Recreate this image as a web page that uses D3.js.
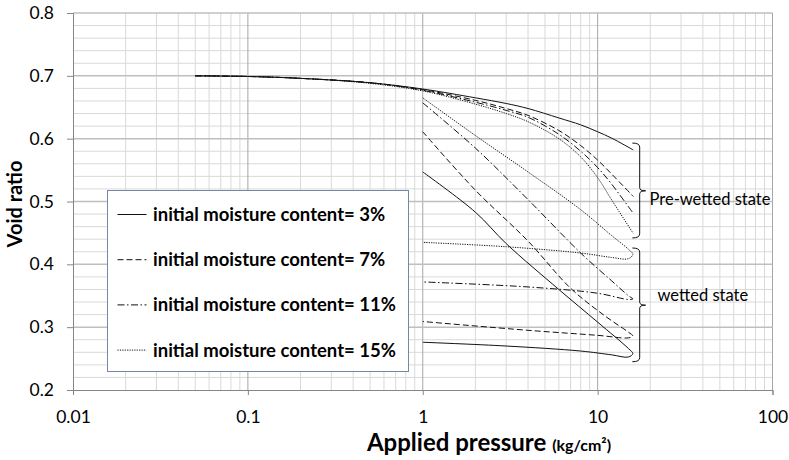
<!DOCTYPE html>
<html>
<head>
<meta charset="utf-8">
<script src="https://cdn.jsdelivr.net/npm/d3@7.9.0/dist/d3.min.js"></script>
<style>
  body { margin: 0; background: #fff; }
  svg text { font-family: Lato, "Open Sans", sans-serif; fill: #000; }
</style>
</head>
<body>
<svg id="chart" width="789" height="460"></svg>
<script>
// legend labels, one per initial moisture content
const seriesNames = [
  'initial moisture content= 3%',
  'initial moisture content= 7%',
  'initial moisture content= 11%',
  'initial moisture content= 15%'
];

// pre-wetted loading curves (pressure kg/cm2, void ratio)
const preP = [0.05, 0.1, 0.2, 0.5, 1, 2, 3, 4, 6, 8, 10, 12, 16];
const pre3 = [0.700, 0.699, 0.696, 0.689, 0.679, 0.665, 0.656, 0.648, 0.633, 0.622, 0.611, 0.601, 0.582];
const pre7 = [0.700, 0.699, 0.696, 0.689, 0.678, 0.661, 0.648, 0.637, 0.613, 0.589, 0.566, 0.544, 0.508];
const pre11 = [0.700, 0.699, 0.696, 0.689, 0.677, 0.658, 0.645, 0.634, 0.607, 0.580, 0.554, 0.528, 0.481];
const pre15 = [0.700, 0.699, 0.696, 0.688, 0.676, 0.655, 0.640, 0.627, 0.600, 0.571, 0.538, 0.503, 0.449];

// wetted state curves: down the diagonal, round the end, back along the bottom
const wetP3 = [1, 2, 3, 6, 10, 15, 15.9, 15, 12, 8, 3, 1];
const wet3 = [0.547, 0.483, 0.433, 0.360, 0.308, 0.266, 0.258, 0.2525, 0.256, 0.262, 0.270, 0.276];
const wetP7 = [1, 2, 4, 7, 11, 15, 15.9, 15, 10, 4, 1];
const wet7 = [0.611, 0.518, 0.437, 0.362, 0.318, 0.292, 0.286, 0.283, 0.287, 0.295, 0.309];
const wetP11 = [1, 2, 4, 8, 12, 15, 15.9, 15, 10, 4, 1];
const wet11 = [0.657, 0.585, 0.503, 0.418, 0.374, 0.350, 0.345, 0.344, 0.354, 0.364, 0.372];
const wetP15 = [1, 2, 4, 8, 12, 15, 15.9, 15, 12, 8, 3, 1];
const wet15 = [0.665, 0.605, 0.547, 0.487, 0.446, 0.424, 0.416, 0.409, 0.411, 0.418, 0.428, 0.435];

// brackets on the right
const bracketLabels = ['Pre-wetted state', 'wetted state'];
const bracketTop = [0.593, 0.426];
const bracketMid = [0.517, 0.335];
const bracketBottom = [0.442, 0.245];
const bracketTextY = [0.504, 0.351];

const xTicks = [0.01, 0.1, 1, 10, 100];
const yTicks = [0.2, 0.3, 0.4, 0.5, 0.6, 0.7, 0.8];

const dashes = ['none', '6,3', '7,2.5,1.5,2.5', '1.2,1.2'];

const svg = d3.select('#chart');
const plotL = 73, plotR = 772.5, plotT = 13, plotB = 390;

const x = d3.scaleLog().domain([0.01, 100]).range([plotL, plotR]);
const y = d3.scaleLinear().domain([0.2, 0.8]).range([plotB, plotT]);

// grid
const minorX = [];
for (let d = 0.01; d < 99; d *= 10) {
  for (let k = 2; k <= 9; k++) minorX.push(d * k);
}
const minorY = d3.range(0.2, 0.8001, 0.02).filter(v => Math.abs(v * 10 - Math.round(v * 10)) > 0.01);

const grid = svg.append('g');
grid.selectAll('.mx').data(minorX).join('line')
  .attr('x1', d => x(d)).attr('x2', d => x(d))
  .attr('y1', plotT).attr('y2', plotB)
  .attr('stroke', '#d9d9d9').attr('stroke-width', 1);
grid.selectAll('.my').data(minorY).join('line')
  .attr('x1', plotL).attr('x2', plotR)
  .attr('y1', d => y(d)).attr('y2', d => y(d))
  .attr('stroke', '#d9d9d9').attr('stroke-width', 1);
grid.selectAll('.Mx').data(xTicks.slice(1)).join('line')
  .attr('x1', d => x(d)).attr('x2', d => x(d))
  .attr('y1', plotT).attr('y2', plotB)
  .attr('stroke', '#a6a6a6').attr('stroke-width', 1);
grid.selectAll('.My').data(yTicks.slice(1)).join('line')
  .attr('x1', plotL).attr('x2', plotR)
  .attr('y1', d => y(d)).attr('y2', d => y(d))
  .attr('stroke', '#bfbfbf').attr('stroke-width', 1.5);

// axes
const xAxis = svg.append('g')
  .attr('transform', `translate(0,${plotB})`)
  .call(d3.axisBottom(x).tickValues(xTicks).tickFormat(d3.format('~g')).tickSize(5).tickPadding(15.5));
const yAxis = svg.append('g')
  .attr('transform', `translate(${plotL},0)`)
  .call(d3.axisLeft(y).tickValues(yTicks).tickFormat(d3.format('.1f')).tickSize(6).tickPadding(13));
[xAxis, yAxis].forEach(a => {
  a.select('.domain').attr('stroke', '#868686');
  a.selectAll('.tick line').attr('stroke', '#868686');
  a.selectAll('.tick text').attr('font-family', 'Lato, sans-serif').attr('font-size', 17.5).attr('fill', '#000');
});

// curves
const line = d3.line()
  .x(d => x(d[0]))
  .y(d => y(d[1]))
  .curve(d3.curveCatmullRom.alpha(0.5));

const preSeries = [pre3, pre7, pre11, pre15];
const wetSeries = [[wetP3, wet3], [wetP7, wet7], [wetP11, wet11], [wetP15, wet15]];

const curves = svg.append('g').attr('fill', 'none').attr('stroke', '#111').attr('stroke-width', 1);
preSeries.forEach((vals, i) => {
  curves.append('path')
    .attr('d', line(preP.map((p, j) => [p, vals[j]])))
    .attr('stroke-dasharray', dashes[i]);
});
wetSeries.forEach(([ps, vals], i) => {
  curves.append('path')
    .attr('d', line(ps.map((p, j) => [p, vals[j]])))
    .attr('stroke-dasharray', dashes[i]);
});

// brackets
const bx0 = x(15.8), bx1 = x(17.4), bx2 = x(18.8);
bracketLabels.forEach((label, i) => {
  const t = y(bracketTop[i]), m = y(bracketMid[i]), b = y(bracketBottom[i]);
  svg.append('path')
    .attr('d', `M${bx0},${t} Q${bx1},${t} ${bx1},${t + 4} L${bx1},${m - 3} Q${bx1},${m} ${bx2},${m} Q${bx1},${m} ${bx1},${m + 3} L${bx1},${b - 4} Q${bx1},${b} ${bx0},${b}`)
    .attr('fill', 'none').attr('stroke', '#111').attr('stroke-width', 1);
  svg.append('text')
    .attr('x', i === 0 ? x(19.8) : x(22))
    .attr('y', y(bracketTextY[i]))
    .attr('dy', '0.35em')
    .attr('font-size', 16.5)
    .text(label);
});

// legend
const lg = svg.append('g');
lg.append('rect')
  .attr('x', 107.5).attr('y', 190.5).attr('width', 301).attr('height', 181)
  .attr('fill', '#fff').attr('stroke', '#7288a6').attr('stroke-width', 1);
seriesNames.forEach((name, i) => {
  const cy = 214.5 + i * 45.2;
  lg.append('line')
    .attr('x1', 117.5).attr('x2', 146.5).attr('y1', cy).attr('y2', cy)
    .attr('stroke', '#111').attr('stroke-width', 1).attr('stroke-dasharray', dashes[i]);
  lg.append('text')
    .attr('x', 153).attr('y', cy).attr('dy', '0.35em')
    .attr('font-size', 18.5).attr('font-weight', 'bold')
    .text(name);
});

// axis titles
svg.append('text')
  .attr('transform', 'translate(22,204) rotate(-90)')
  .attr('text-anchor', 'middle')
  .attr('font-size', 20).attr('font-weight', 'bold')
  .text('Void ratio');

const xt = svg.append('text')
  .attr('x', 489).attr('y', 451)
  .attr('text-anchor', 'middle')
  .attr('font-weight', 'bold');
xt.append('tspan').attr('font-size', 24).text('Applied pressure ');
xt.append('tspan').attr('font-size', 16).text('(kg/cm²)');
</script>
</body>
</html>
